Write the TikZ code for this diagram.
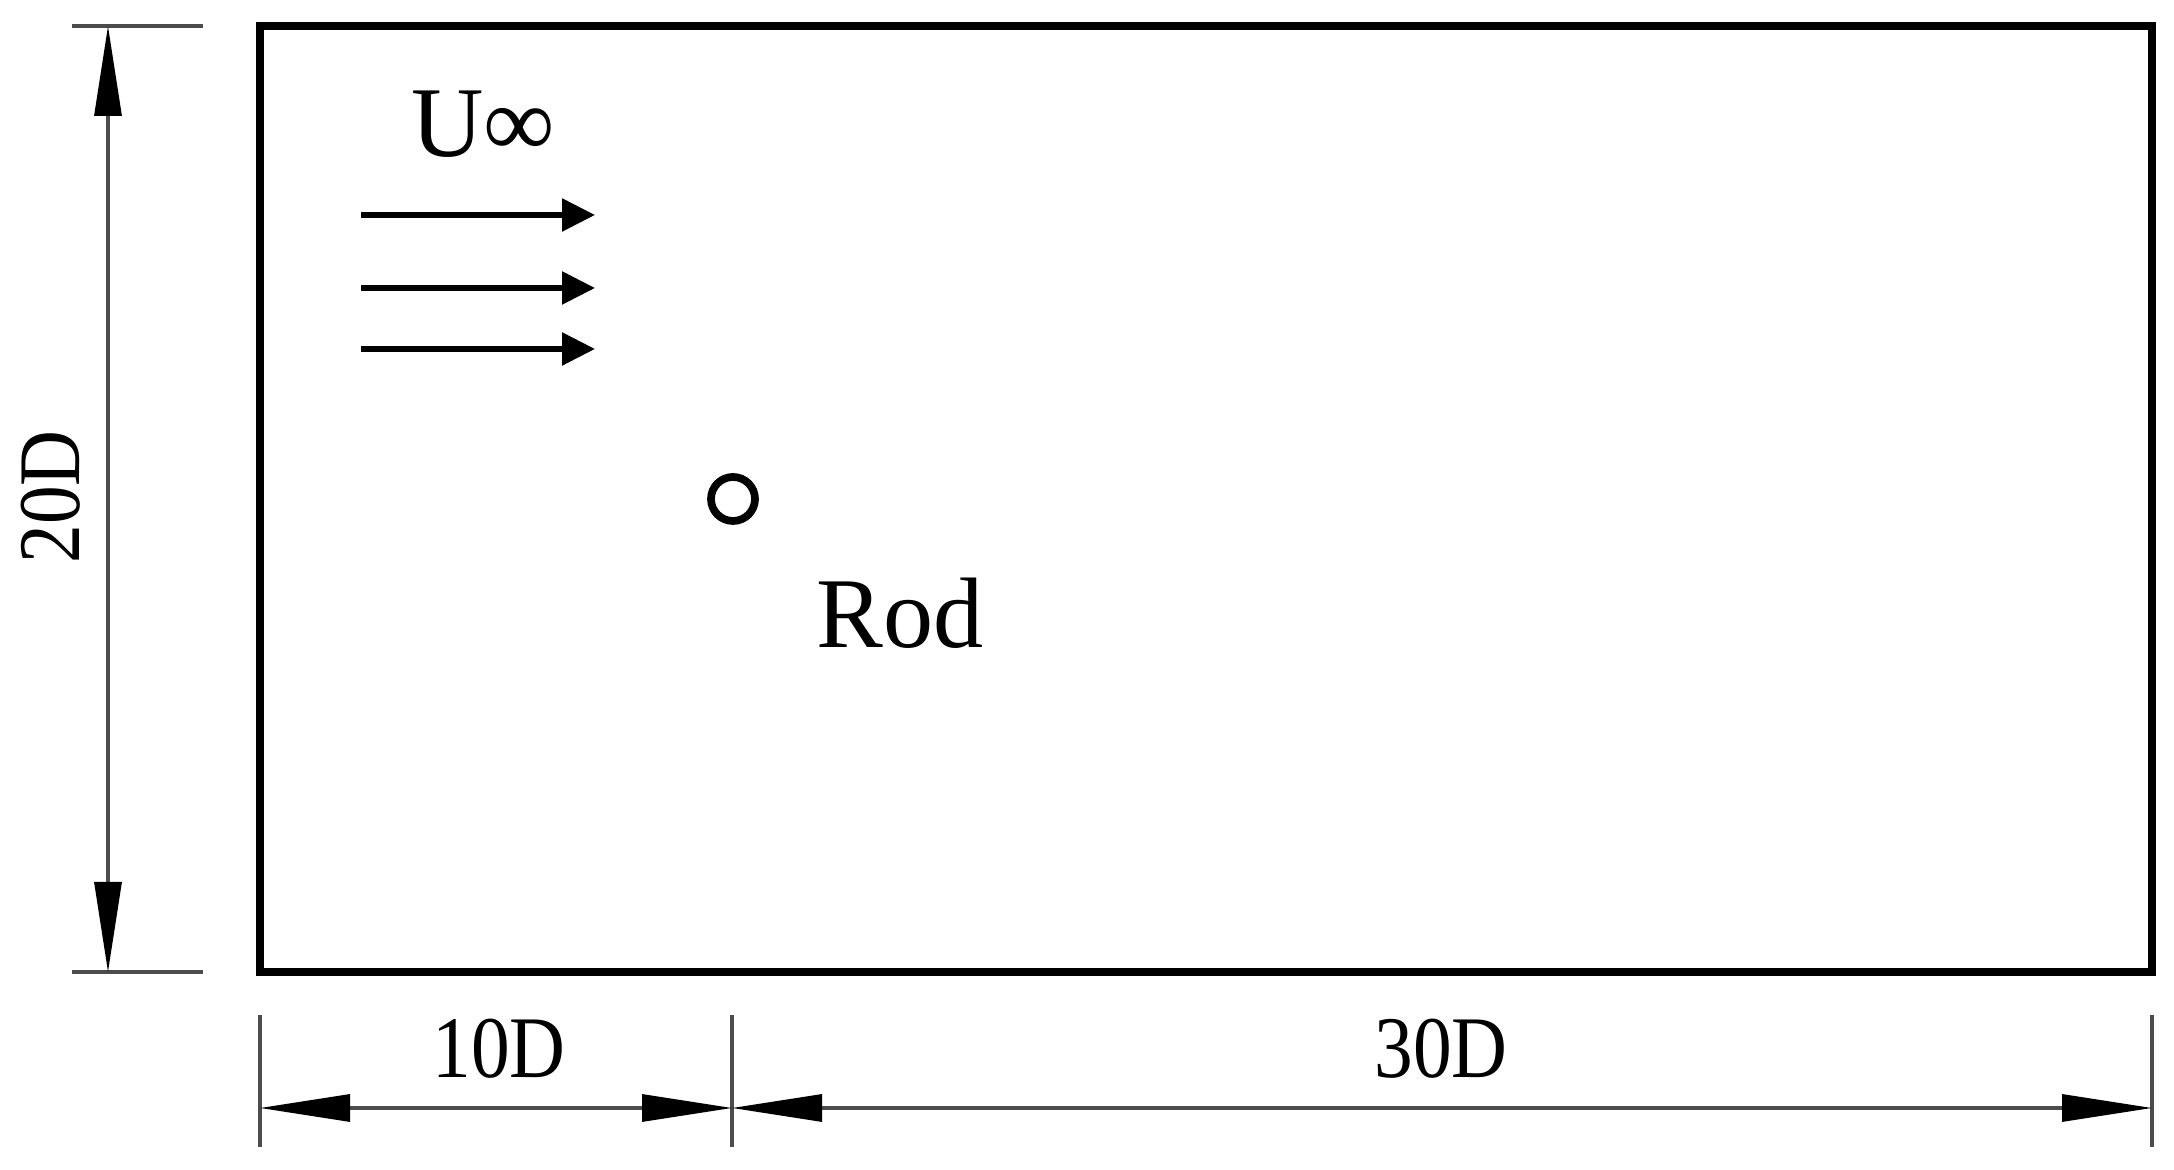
\documentclass[tikz,border=0pt]{standalone}
\usepackage{fontspec}
\setmainfont{Liberation Serif}
\newfontfamily\dimfont[FakeStretch=0.88]{Liberation Serif}
\usetikzlibrary{arrows.meta}

\tikzset{
  domainbox/.style={line width=2.3pt, line join=miter},
  dimline/.style={black!70, line width=0.9pt},
  dimarrows/.style={{Triangle[length=0.9cm, width=0.27cm, color=black]}-{Triangle[length=0.9cm, width=0.27cm, color=black]}},
  flow/.style={line width=1.6pt, -{Triangle[length=0.33cm, width=0.32cm]}},
  biglabel/.style={font=\fontsize{28.5}{30}\selectfont, inner sep=0pt, anchor=base},
  dimlabel/.style={font=\dimfont\fontsize{25}{28}\selectfont, inner sep=0pt, anchor=base}
}

\begin{document}
\begin{tikzpicture}
  \useasboundingbox (0, 0) rectangle (21.74, 11.70);

  % computational domain
  \coordinate (SW) at (2.60, 1.98);
  \coordinate (NE) at (21.52, 11.44);
  \draw [domainbox] (SW) rectangle (NE);

  % rod and free stream
  \node (rod) [circle, draw, line width=2.2pt, minimum size=0.44cm, inner sep=0pt] at (7.33, 6.71) {};
  \node (rodlabel) [biglabel] at (9.00, 5.22) {Rod};
  \node (inflow) [biglabel] at (4.83, 10.13) {U∞};
  \foreach \y in {9.55, 8.82, 8.21}
    \draw [flow] (3.61, \y) -- (5.95, \y);

  % height 20D
  \coordinate (htop) at (1.08, 11.44);
  \coordinate (hbot) at (1.08, 1.98);
  \draw [dimline] (0.72, 11.44) -- (2.03, 11.44);
  \draw [dimline] (0.72, 1.98) -- (2.03, 1.98);
  \draw [dimline, dimarrows] (hbot) -- (htop);
  \node (heightlabel) [dimlabel, rotate=90] at (0.80, 6.73) {20D};

  % lengths 10D and 30D
  \coordinate (inlet) at (2.60, 0.62);
  \coordinate (rodx) at (7.32, 0.62);
  \coordinate (outlet) at (21.52, 0.62);
  \foreach \x in {2.60, 7.32, 21.52}
    \draw [dimline] (\x, 0.23) -- (\x, 1.55);
  \draw [dimline, dimarrows] (inlet) -- (rodx);
  \draw [dimline, dimarrows] (rodx) -- (outlet);
  \node (upstreamlabel) [dimlabel] at (4.99, 0.92) {10D};
  \node (downstreamlabel) [dimlabel] at (14.41, 0.92) {30D};

\end{tikzpicture}
\end{document}
